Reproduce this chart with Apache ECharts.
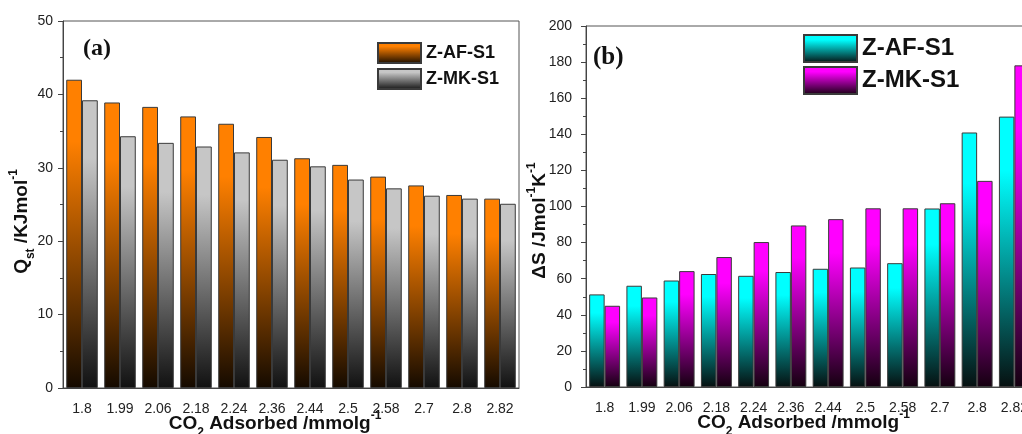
<!DOCTYPE html>
<html>
<head>
<meta charset="utf-8">
<script src="https://cdn.jsdelivr.net/npm/echarts@6/dist/echarts.min.js"></script>
<style>
  html, body { margin: 0; padding: 0; background: #fff; }
  #chart { width: 1022px; height: 434px; }
</style>
</head>
<body>
<div id="chart"></div>
<script>
// x categories (CO2 adsorbed, mmol/g)
const categories = ['1.8', '1.99', '2.06', '2.18', '2.24', '2.36', '2.44', '2.5', '2.58', '2.7', '2.8', '2.82'];
// panel (a) Qst, kJ/mol
const qstAF = [42.0, 38.9, 38.3, 37.0, 36.0, 34.2, 31.3, 30.4, 28.8, 27.6, 26.3, 25.8];
const qstMK = [39.2, 34.3, 33.4, 32.9, 32.1, 31.1, 30.2, 28.4, 27.2, 26.2, 25.8, 25.1];
// panel (b) dS, J/mol/K
const dsAF = [51.3, 56.1, 59.0, 62.6, 61.6, 63.7, 65.5, 66.2, 68.6, 98.9, 141.0, 149.8];
const dsMK = [45.0, 49.6, 64.2, 72.0, 80.3, 89.5, 93.0, 99.0, 99.0, 101.8, 114.2, 178.2];

const font = 'Liberation Sans, Arial, sans-serif';

function grad(top, bottom) {
  return {
    type: 'linear', x: 0, y: 0, x2: 0, y2: 1,
    colorStops: [
      { offset: 0, color: top },
      { offset: 0.2, color: top },
      { offset: 1, color: bottom }
    ]
  };
}

const nameRich = {
  b: { fontFamily: font, fontWeight: 'bold', fontSize: 19, color: '#111', lineHeight: 24 },
  sub: { fontFamily: font, fontWeight: 'bold', fontSize: 12, color: '#111', lineHeight: 24, verticalAlign: 'bottom', padding: [0, 0, -3, 0] },
  sup: { fontFamily: font, fontWeight: 'bold', fontSize: 12, color: '#111', lineHeight: 24, verticalAlign: 'top', padding: [-2, 0, 0, 0] }
};

function xAxes(gridIndex, nameShift) {
  return [
    {
      type: 'category', gridIndex: gridIndex, data: categories,
      axisLine: { lineStyle: { color: '#444', width: 1 } },
      axisTick: { alignWithLabel: true, length: 5, lineStyle: { color: '#444' } },
      axisLabel: { fontFamily: font, fontSize: 14, color: '#222', margin: 14, interval: 0 },
      name: '{b|CO}{sub|2}{b| Adsorbed /mmolg}{sup|-1}',
      nameLocation: 'middle', nameGap: 24, nameMoveOverlap: false,
      nameTextStyle: { rich: nameRich, padding: nameShift }
    },
    {
      type: 'category', gridIndex: gridIndex, data: categories,
      axisLine: { show: false },
      axisTick: { length: 3, lineStyle: { color: '#444' } },
      axisLabel: { show: false }
    }
  ];
}

function yAxis(gridIndex, max, interval, name, gap, margin, shift) {
  return {
    type: 'value', gridIndex: gridIndex, min: 0, max: max, interval: interval,
    axisLine: { show: true, lineStyle: { color: '#444', width: 1 } },
    axisTick: { show: true, length: 5, lineStyle: { color: '#444' } },
    minorTick: { show: true, splitNumber: 2, length: 3, lineStyle: { color: '#444' } },
    splitLine: { show: false },
    axisLabel: { fontFamily: font, fontSize: 14, color: '#222', margin: margin },
    name: name, nameLocation: 'middle', nameGap: gap, nameMoveOverlap: false,
    nameTextStyle: { rich: nameRich, padding: shift }
  };
}

function bars(name, data, xi, yi, top, bottom) {
  return {
    name: name, type: 'bar', xAxisIndex: xi, yAxisIndex: yi, data: data,
    barGap: '0%', barCategoryGap: '17%',
    itemStyle: { color: grad(top, bottom), borderColor: '#3a3a3a', borderWidth: 1 }
  };
}

const chart = echarts.init(document.getElementById('chart'), null, { renderer: 'canvas' });

chart.setOption({
  animation: false,
  backgroundColor: '#fff',
  title: [
    { text: '(a)', left: 83, top: 37, padding: 0, textStyle: { fontFamily: 'Liberation Serif, Times New Roman, serif', fontWeight: 'bold', fontSize: 24, color: '#111' } },
    { text: '(b)', left: 593, top: 45, padding: 0, textStyle: { fontFamily: 'Liberation Serif, Times New Roman, serif', fontWeight: 'bold', fontSize: 25, color: '#111' } }
  ],
  legend: [
    {
      data: ['Z-AF-S1', 'Z-MK-S1'], orient: 'vertical', left: 377, top: 42, icon: 'rect', padding: 0,
      itemWidth: 43, itemHeight: 20, itemGap: 4, selectedMode: false,
      textStyle: { fontFamily: font, fontWeight: 'bold', fontSize: 18, color: '#111' }
    },
    {
      data: ['Z-AF-S1 (b)', 'Z-MK-S1 (b)'], orient: 'vertical', left: 803, top: 34, icon: 'rect', padding: 0,
      itemWidth: 53, itemHeight: 27, itemGap: 3, selectedMode: false,
      formatter: function (n) { return n.replace(' (b)', ''); },
      textStyle: { fontFamily: font, fontWeight: 'bold', fontSize: 24, color: '#111' }
    }
  ],
  grid: [
    { left: 63, top: 21, width: 456, height: 367, outerBoundsMode: 'none', show: true, borderColor: '#555', borderWidth: 1, backgroundColor: 'transparent' },
    { left: 586, top: 26, width: 447, height: 361, outerBoundsMode: 'none', show: true, borderColor: '#555', borderWidth: 1, backgroundColor: 'transparent' }
  ],
  xAxis: xAxes(0, [0, 32, 0, 0]).concat(xAxes(1, [0, 12, 0, 0])),
  yAxis: [
    yAxis(0, 50, 10, '{b|Q}{sub|st}{b| /KJmol}{sup|-1}', 29, 10, [0, 34, 0, 0]),
    yAxis(1, 200, 20, '{b|\u0394S /Jmol}{sup|-1}{b|K}{sup|-1}', 34, 14, [0, 28, 0, 0])
  ],
  series: [
    bars('Z-AF-S1', qstAF, 0, 0, '#ff8000', '#140a00'),
    bars('Z-MK-S1', qstMK, 0, 0, '#c6c6c6', '#111111'),
    bars('Z-AF-S1 (b)', dsAF, 2, 1, '#00ffff', '#061010'),
    bars('Z-MK-S1 (b)', dsMK, 2, 1, '#ff00ff', '#14000f')
  ]
});
</script>
</body>
</html>
